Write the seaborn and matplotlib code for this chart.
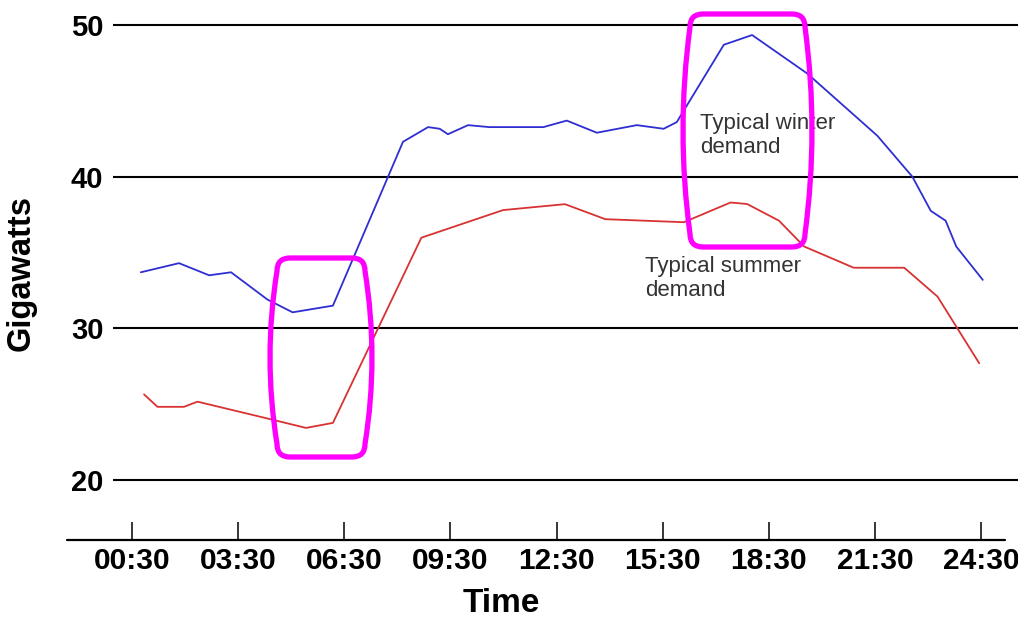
import numpy as np
import pandas as pd
import matplotlib
matplotlib.use("Agg")
import matplotlib.pyplot as plt
from matplotlib.patches import PathPatch
from matplotlib.path import Path
from matplotlib.lines import Line2D
import seaborn as sns

# ---- data ----
winter_hours = [0.75, 1.83, 2.68, 3.30, 4.33, 5.04, 6.18, 8.16, 8.87, 9.20, 9.43,
                10.0, 10.6, 12.13, 12.79, 13.64, 14.77, 15.53, 15.9, 17.23, 18.03,
                19.59, 21.57, 22.56, 23.08, 23.5, 23.8, 24.55]
winter_gw = [33.7, 34.3, 33.5, 33.7, 31.9, 31.06, 31.5, 42.3, 43.27, 43.16, 42.8,
             43.4, 43.27, 43.27, 43.7, 42.9, 43.4, 43.16, 43.6, 48.7, 49.34,
             46.8, 42.7, 40.0, 37.75, 37.1, 35.4, 33.2]
summer_hours = [0.84, 1.22, 1.97, 2.35, 4.33, 5.42, 6.18, 8.68, 10.99, 12.74, 13.88,
                16.1, 17.42, 17.89, 18.79, 19.5, 20.9, 22.33, 23.27, 24.45]
summer_gw = [25.65, 24.83, 24.83, 25.17, 24.06, 23.44, 23.77, 35.98, 37.8, 38.19, 37.2,
             37.0, 38.3, 38.2, 37.1, 35.4, 34.0, 34.0, 32.1, 27.7]
tick_hours = [0.5, 3.5, 6.5, 9.5, 12.5, 15.5, 18.5, 21.5, 24.5]
tick_labels = ["00:30", "03:30", "06:30", "09:30", "12:30", "15:30", "18:30", "21:30", "24:30"]
y_ticks = [20, 30, 40, 50]
series_names = ["Typical winter demand", "Typical summer demand"]

df = pd.concat([
    pd.DataFrame({"hour": winter_hours, "gw": winter_gw, "series": series_names[0]}),
    pd.DataFrame({"hour": summer_hours, "gw": summer_gw, "series": series_names[1]}),
], ignore_index=True)

sns.set_theme(style="white")
plt.rcParams["font.family"] = ["Liberation Sans", "DejaVu Sans"]

W, H = 1018, 619
fig = plt.figure(figsize=(W / 100, H / 100), dpi=100)
ax = fig.add_axes([113 / W, (H - 540) / H, (W - 113) / W, 540 / H])

sns.lineplot(data=df, x="hour", y="gw", hue="series", sort=False, estimator=None,
             palette={series_names[0]: "#2e2ed2", series_names[1]: "#d83232"},
             linewidth=1.3, legend=False, ax=ax, zorder=3)

ax.set_xlim(0.5 - 19 / 35.375, 0.5 + 886 / 35.375)
ax.set_ylim(16.05, 51.65)

ax.set_yticks(y_ticks)
ax.set_yticklabels([str(v) for v in y_ticks])
ax.set_xticks(tick_hours)
ax.set_xticklabels(tick_labels)
plt.setp(ax.get_xticklabels(), fontweight="bold", fontsize=21.5, color="black")
plt.setp(ax.get_yticklabels(), fontweight="bold", fontsize=21, color="black")
ax.tick_params(axis="y", length=0, pad=7)
ax.tick_params(axis="x", direction="in", length=13, width=1.1, color="black", pad=5,
               bottom=True)

ax.yaxis.grid(True, color="black", linewidth=1.5)
ax.xaxis.grid(False)
for s in ax.spines.values():
    s.set_visible(False)

# bottom axis line
fig.add_artist(Line2D([67 / W, 1005 / W], [(H - 540) / H, (H - 540) / H],
                      color="black", linewidth=1.6, transform=fig.transFigure))

ax.set_xlabel("Time", fontsize=24, fontweight="bold", color="black")
ax.set_ylabel("Gigawatts", fontsize=23.5, fontweight="bold", color="black")
ax.xaxis.set_label_coords((501 - 113) / 905, -0.088)
ax.yaxis.set_label_coords((37 - 113) / 905, 0.494)

# annotations
ax.text(16.56, 42.7, "Typical winter\ndemand", fontsize=16, color="#333333",
        ha="left", va="center", linespacing=1.2, zorder=4)
ax.text(15.0, 33.3, "Typical summer\ndemand", fontsize=16, color="#333333",
        ha="left", va="center", linespacing=1.15, zorder=4)

# magenta highlight outlines (barrel shapes), in figure pixels
def barrel(L, R, T, B, inset=7, r=13):
    cy = (T + B) / 2
    xl, xr = L + inset, R - inset
    pts = [
        (xl + r, T),
        (xr - r, T),
        (xr, T), (xr, T + r),                       # corner (quad)
        (R + inset, cy), (xr, B - r),               # side (quad)
        (xr, B), (xr - r, B),                       # corner
        (xl + r, B),
        (xl, B), (xl, B - r),                       # corner
        (L - inset, cy), (xl, T + r),               # side
        (xl, T), (xl + r, T),                       # corner
        (xl + r, T),
    ]
    codes = [Path.MOVETO, Path.LINETO,
             Path.CURVE3, Path.CURVE3,
             Path.CURVE3, Path.CURVE3,
             Path.CURVE3, Path.CURVE3,
             Path.LINETO,
             Path.CURVE3, Path.CURVE3,
             Path.CURVE3, Path.CURVE3,
             Path.CURVE3, Path.CURVE3,
             Path.CLOSEPOLY]
    verts = [(x / W, (H - y) / H) for x, y in pts]
    return Path(verts, codes)

for (L, R, T, B) in [(270, 372, 258, 457), (683, 812, 14, 247)]:
    fig.add_artist(PathPatch(barrel(L, R, T, B), fill=False, edgecolor="#ff00ff",
                             linewidth=3.8, transform=fig.transFigure, zorder=5,
                             joinstyle="round", capstyle="round"))

fig.savefig("out.png", dpi=100)
